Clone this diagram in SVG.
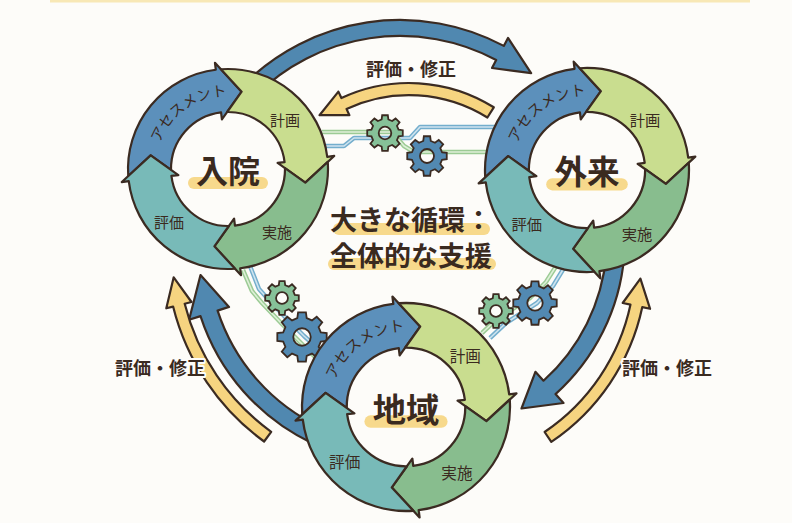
<svg xmlns="http://www.w3.org/2000/svg" width="792" height="523" viewBox="0 0 792 523">
<style>
  .ol { stroke:#3b2b22; stroke-width:2.2; stroke-linejoin:round; }
  .blue { fill:#5c90bb; }
  .lime { fill:#c9dd8f; }
  .green { fill:#88bd8e; }
  .teal { fill:#78bab8; }
  .arrow-blue { fill:#5088b0; }
  .arrow-yellow { fill:#f6d480; }
  .lbl { font-family:"Noto Sans CJK JP","Noto Sans",sans-serif; fill:#3a2a1f; }
  .seg { font-size:15px; text-anchor:middle; font-weight:400; }
  .assess { font-size:14.5px; font-weight:400; }
  .title { font-size:32px; font-weight:700; text-anchor:middle; }
  .big { font-size:27px; font-weight:700; text-anchor:middle; }
  .note { font-size:18px; font-weight:700; text-anchor:middle; stroke:#fdfcf9; stroke-width:4; stroke-linejoin:round; paint-order:stroke; }
  .hl { fill:#f7d98c; }
  .wire-b { fill:none; stroke:#74aecd; stroke-width:4.5; stroke-linejoin:round; }
  .wire-b-in { fill:none; stroke:#cfe4ef; stroke-width:1.6; stroke-linejoin:round; }
  .wire-g { fill:none; stroke:#9ccb95; stroke-width:4.5; stroke-linejoin:round; }
  .wire-g-in { fill:none; stroke:#def0d8; stroke-width:1.6; stroke-linejoin:round; }
  .gear-g { fill:#86c198; }
  .gear-b { fill:#5289b2; }
  .gear { stroke:#3b2b22; stroke-width:1.8; fill-rule:evenodd; }
</style>
<defs>
  <!-- four-step cycle ring, centred on 0,0; each step ends in an arrowhead that nests into the next step -->
  <g id="ring">
    <path class="blue ol" d="M-99.75,7.08 A100,100 0 0 1 -12.19,-99.25 L-13.04,-106.2 L13.63,-77.31 L-6.09,-49.63 L-6.95,-56.58 A57,57 0 0 0 -56.99,0.85 L-77.31,-13.63 Z"/>
    <path class="lime ol" d="M-7.08,-99.75 A100,100 0 0 1 99.25,-12.19 L106.2,-13.04 L77.31,13.63 L49.63,-6.09 L56.58,-6.95 A57,57 0 0 0 -0.85,-56.99 L13.63,-77.31 Z"/>
    <path class="green ol" d="M99.75,-7.08 A100,100 0 0 1 12.19,99.25 L13.04,106.2 L-13.63,77.31 L6.09,49.63 L6.95,56.58 A57,57 0 0 0 56.99,-0.85 L77.31,13.63 Z"/>
    <path class="teal ol" d="M7.08,99.75 A100,100 0 0 1 -99.25,12.19 L-106.2,13.04 L-77.31,-13.63 L-49.63,6.09 L-56.58,6.95 A57,57 0 0 0 0.85,56.99 L-13.63,77.31 Z"/>
  </g>
  <path id="arc-assess" d="M-71.89,-12.68 A73,73 0 0 1 12.68,-71.89" fill="none"/>
  <!-- eight-tooth gear with a hole -->
  <path id="gear" vector-effect="non-scaling-stroke" d="M15.04,-3.75 L19.75,-3.13 L19.75,3.13 L15.04,3.75 L13.29,7.98 L16.18,11.76 L11.76,16.18 L7.98,13.29 L3.75,15.04 L3.13,19.75 L-3.13,19.75 L-3.75,15.04 L-7.98,13.29 L-11.76,16.18 L-16.18,11.76 L-13.29,7.98 L-15.04,3.75 L-19.75,3.13 L-19.75,-3.13 L-15.04,-3.75 L-13.29,-7.98 L-16.18,-11.76 L-11.76,-16.18 L-7.98,-13.29 L-3.75,-15.04 L-3.13,-19.75 L3.13,-19.75 L3.75,-15.04 L7.98,-13.29 L11.76,-16.18 L16.18,-11.76 L13.29,-7.98 Z M7,0 A7,7 0 1 0 -7,0 A7,7 0 1 0 7,0 Z"/>
</defs>

<rect width="792" height="523" fill="#fdfcf9"/>
<rect x="50" y="0" width="700" height="2.5" fill="#f8e8b6"/>

<!-- linking wires and gears between the cycles -->
<g id="network">
  <g>
    <path class="wire-b" d="M322,146 L344,146 L354,138 L410,138 L420,127 L495,127"/>
    <path class="wire-b-in" d="M322,146 L344,146 L354,138 L410,138 L420,127 L495,127"/>
    <path class="wire-g" d="M322,132 L392,132 L404,146 L414,152 L505,152"/>
    <path class="wire-g-in" d="M322,132 L392,132 L404,146 L414,152 L505,152"/>
    <path class="wire-g" d="M243,270 L252,291 L262,303 L282,324 L300,342 L318,360"/>
    <path class="wire-g-in" d="M243,270 L252,291 L262,303 L282,324 L300,342 L318,360"/>
    <path class="wire-b" d="M250,266 L259,289 L268,299 L286,318 L304,336 L324,354"/>
    <path class="wire-b-in" d="M250,266 L259,289 L268,299 L286,318 L304,336 L324,354"/>
    <path class="wire-g" d="M560,260 L546,282 L530,298 L498,318 L482,333"/>
    <path class="wire-g-in" d="M560,260 L546,282 L530,298 L498,318 L482,333"/>
    <path class="wire-b" d="M567,263 L553,286 L537,303 L506,323 L490,338"/>
    <path class="wire-b-in" d="M567,263 L553,286 L537,303 L506,323 L490,338"/>
  </g>
  <use href="#gear" class="gear gear-g" transform="translate(385,133) scale(0.9)"/>
  <use href="#gear" class="gear gear-b" transform="translate(427,156) scale(1.0)"/>
  <use href="#gear" class="gear gear-g" transform="translate(282,298) scale(0.85)"/>
  <use href="#gear" class="gear gear-b" transform="translate(302,337) scale(1.25)"/>
  <use href="#gear" class="gear gear-g" transform="translate(496,311) scale(0.85)"/>
  <use href="#gear" class="gear gear-b" transform="translate(535,303) scale(1.1)"/>
</g>

<!-- hand-over arrows between the cycles -->
<g id="connectors">
  <path id="arrow-top" class="arrow-blue ol" d="M243.7,84.7 A221,221 0 0 1 503.8,45.9 L508,37.9 L531.1,73.2 L492,68 L496.2,60 A205,205 0 0 0 255,96 Z"/>
  <path id="feedback-top" class="arrow-yellow ol" d="M493.8,107.3 A160,160 0 0 0 341.4,98 L338.4,91.6 L319.5,115.2 L349.4,115.2 L346.5,108.9 A148,148 0 0 1 487.4,117.5 Z"/>
  <path id="arrow-left" class="arrow-blue ol" d="M313.6,443.9 A214,214 0 0 1 200.5,316.1 L189.1,319.8 L200.5,275 L229,306.9 L217.6,310.6 A196,196 0 0 0 321.2,427.6 Z"/>
  <path id="feedback-left" class="arrow-yellow ol" d="M264.1,441.5 A238,238 0 0 1 173.1,306.6 L166.3,308.3 L173.7,277.3 L191.5,302 L184.7,303.7 A226,226 0 0 0 271.2,431.8 Z"/>
  <path id="arrow-right" class="arrow-blue ol" d="M624.2,256.3 A210,210 0 0 1 555.5,394.1 L563.5,403 L521.5,408.5 L535.4,371.8 L543.5,380.7 A192,192 0 0 0 606.3,254.7 Z"/>
  <path id="feedback-right" class="arrow-yellow ol" d="M551.3,441.9 A217,217 0 0 0 642.3,307.1 L650.1,308.8 L640.4,278.6 L622.7,303 L630.5,304.6 A205,205 0 0 1 544.6,432 Z"/>
  <text class="lbl note" x="411" y="76">評価・修正</text>
  <text class="lbl note" x="160" y="375">評価・修正</text>
  <text class="lbl note" x="667" y="375">評価・修正</text>
</g>

<!-- cycle: inpatient -->
<g id="node-inpatient" transform="translate(228,169)">
  <use href="#ring"/>
  <text class="lbl assess"><textPath href="#arc-assess" startOffset="50%" text-anchor="middle">アセスメント</textPath></text>
  <text class="lbl seg" x="57" y="-43">計画</text>
  <text class="lbl seg" x="49" y="69">実施</text>
  <text class="lbl seg" x="-59" y="59">評価</text>
  <rect class="hl" x="-40" y="8" width="80" height="12" rx="6"/>
  <text class="lbl title" x="0" y="14">入院</text>
</g>

<!-- cycle: outpatient -->
<g id="node-outpatient" transform="translate(587,170) scale(1.02)">
  <use href="#ring"/>
  <text class="lbl assess"><textPath href="#arc-assess" startOffset="50%" text-anchor="middle">アセスメント</textPath></text>
  <text class="lbl seg" x="57" y="-43">計画</text>
  <text class="lbl seg" x="49" y="69">実施</text>
  <text class="lbl seg" x="-59" y="59">評価</text>
  <rect class="hl" x="-40" y="8" width="80" height="12" rx="6"/>
  <text class="lbl title" x="0" y="14">外来</text>
</g>

<!-- cycle: community -->
<g id="node-community" transform="translate(406,407) scale(1.04)">
  <use href="#ring"/>
  <text class="lbl assess"><textPath href="#arc-assess" startOffset="50%" text-anchor="middle">アセスメント</textPath></text>
  <text class="lbl seg" x="57" y="-43">計画</text>
  <text class="lbl seg" x="49" y="69">実施</text>
  <text class="lbl seg" x="-59" y="59">評価</text>
  <rect class="hl" x="-40" y="8" width="80" height="12" rx="6"/>
  <text class="lbl title" x="0" y="14">地域</text>
</g>

<!-- central caption -->
<g id="center-caption">
  <rect class="hl" x="333" y="223" width="157" height="12" rx="6"/>
  <rect class="hl" x="328" y="258" width="168" height="12" rx="6"/>
  <text class="lbl big" x="411" y="230">大きな循環：</text>
  <text class="lbl big" x="411" y="266">全体的な支援</text>
</g>
</svg>
